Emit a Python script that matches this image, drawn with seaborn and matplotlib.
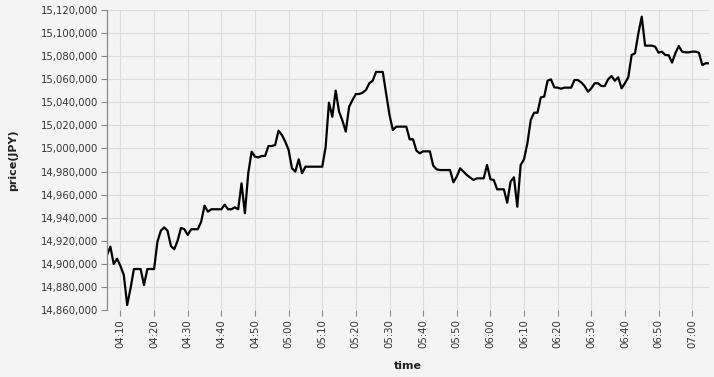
import numpy as np
import pandas as pd
import matplotlib
matplotlib.use("Agg")
import matplotlib.pyplot as plt
import matplotlib.dates as mdates
from matplotlib.ticker import FuncFormatter, MultipleLocator
import seaborn as sns

start_time = "2024-01-01 04:06"
price = [
    14907700, 14914900, 14899900, 14904500, 14898100, 14890300, 14864300, 14878800, 14895500, 14895500,
    14895500, 14881700, 14895500, 14895500, 14895500, 14919200, 14928700, 14931600, 14928700, 14915500,
    14912600, 14920100, 14931100, 14930000, 14925000, 14929900, 14930000, 14930000, 14936500, 14950400,
    14945200, 14947300, 14947300, 14947300, 14947300, 14951300, 14947300, 14947300, 14949000, 14947300,
    14969800, 14943800, 14978500, 14997200, 14992900, 14992300, 14993500, 14993500, 15002100, 15002100,
    15003000, 15015400, 15011700, 15005900, 14998700, 14982800, 14979900, 14990600, 14978500, 14984200,
    14984200, 14984200, 14984200, 14984200, 14984200, 15001000, 15039700, 15027500, 15050100, 15031900,
    15024100, 15014600, 15036200, 15042000, 15047200, 15047200, 15048300, 15050700, 15056500, 15058700,
    15066300, 15066300, 15066300, 15047800, 15029000, 15016000, 15018900, 15018900, 15018900, 15018900,
    15007900, 15007900, 14998100, 14995800, 14997500, 14997500, 14997500, 14985100, 14981900, 14981300,
    14981300, 14981300, 14981300, 14970700, 14975600, 14982800, 14979900, 14977000, 14974700, 14972700,
    14974100, 14974100, 14974100, 14985700, 14973300, 14972700, 14964600, 14964600, 14964600, 14953000,
    14971200, 14975000, 14949500, 14985700, 14990600, 15004500, 15024700, 15031000, 15031000, 15044300,
    15044900, 15058700, 15059900, 15053000, 15052700, 15051800, 15052700, 15052700, 15052700, 15059300,
    15059300, 15057300, 15054100, 15049200, 15052100, 15056500, 15056500, 15054100, 15054100, 15059900,
    15062800, 15058700, 15061700, 15052100, 15056500, 15061700, 15081000, 15082500, 15099800, 15114200,
    15089100, 15089100, 15089100, 15088200, 15083000, 15083900, 15081000, 15080800, 15074400, 15082500,
    15088800, 15083900, 15083300, 15083300, 15083900, 15083900, 15083000, 15072300, 15073800, 15073800,
]
y_min, y_max, y_step = 14860000, 15120000, 20000

times = pd.date_range(start_time, periods=len(price), freq="min")
df = pd.DataFrame({"time": times, "price": price})

sns.set_theme(style="whitegrid")
plt.rcParams["font.family"] = ["DejaVu Sans"]

bg = "#f4f4f4"
fig = plt.figure(figsize=(7.14, 3.77), dpi=100, facecolor=bg)
ax = fig.add_axes([107 / 714, 1 - 310 / 377, 602 / 714, 300 / 377])
ax.set_facecolor(bg)

sns.lineplot(data=df, x="time", y="price", ax=ax, color="black", linewidth=1.6)

ax.set_xlim(times[0], times[-1])
ax.set_ylim(y_min, y_max)
ax.yaxis.set_major_locator(MultipleLocator(y_step))
ax.yaxis.set_major_formatter(FuncFormatter(lambda v, p: f"{int(round(v)):,}"))
ax.xaxis.set_major_locator(mdates.MinuteLocator(byminute=range(0, 60, 10)))
ax.xaxis.set_major_formatter(mdates.DateFormatter("%H:%M"))

ax.grid(True, color="#dcdcdc", linewidth=0.8)
for s in ["top", "right", "bottom"]:
    ax.spines[s].set_visible(False)
ax.spines["left"].set_color("#888888")
ax.spines["left"].set_linewidth(0.9)

ax.tick_params(axis="both", which="major", length=4, width=0.8, color="#888888",
               labelsize=7.3, labelcolor="#333333", pad=2.5, left=True, bottom=True)
plt.setp(ax.get_xticklabels(), rotation=90)

ax.set_xlabel("time", fontsize=8, fontweight="bold", labelpad=9, color="#222222")
ax.set_ylabel("price(JPY)", fontsize=8, fontweight="bold", labelpad=16, color="#222222")

fig.savefig("out.png", dpi=100, facecolor=bg)
